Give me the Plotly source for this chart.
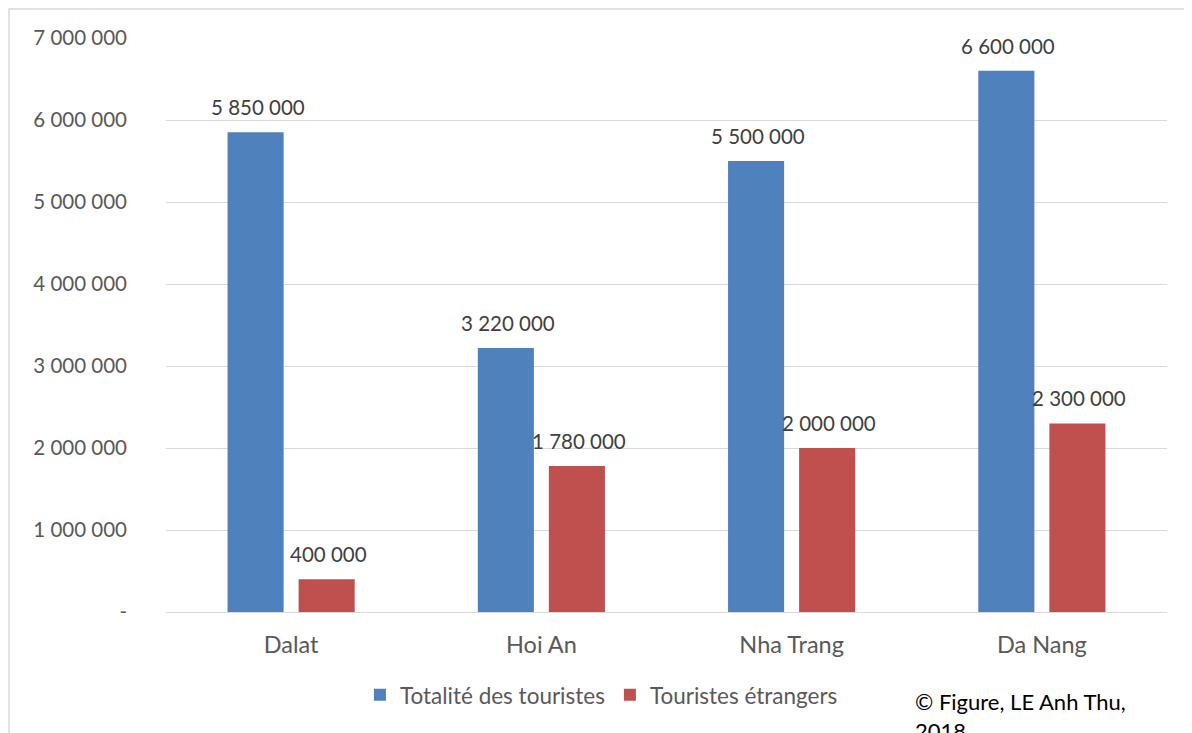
import plotly.graph_objects as go

categories = ["Dalat", "Hoi An", "Nha Trang", "Da Nang"]
total_tourists = [5850000, 3220000, 5500000, 6600000]
foreign_tourists = [400000, 1780000, 2000000, 2300000]
series_names = ["Totalité des touristes", "Touristes étrangers"]
tick_values = [0, 1000000, 2000000, 3000000, 4000000, 5000000, 6000000, 7000000]
tick_labels = ["-", "1 000 000", "2 000 000", "3 000 000", "4 000 000",
               "5 000 000", "6 000 000", "7 000 000"]

BLUE = "#4f81bd"
RED = "#c0504d"
FONT = "Lato"

W, H = 1192, 733
ML, MR, MT, MB = 158, 33, 30, 129
BARGAP = 0.432
plot_w = W - ML - MR
plot_h = H - MT - MB
slot = (1 - BARGAP) * plot_w / len(categories) / 2


def fmt(v):
    return f"{v:,}".replace(",", " ")


fig = go.Figure()
fig.add_trace(go.Bar(
    name=series_names[0], x=categories, y=total_tourists,
    marker=dict(color=BLUE, line=dict(width=0)),
))
fig.add_trace(go.Bar(
    name=series_names[1], x=categories, y=foreign_tourists,
    marker=dict(color=RED, line=dict(width=0)),
))

# data labels above bars
for series, shift in ((total_tourists, -slot / 2), (foreign_tourists, slot / 2)):
    for cat, v in zip(categories, series):
        fig.add_annotation(x=cat, y=v, xref="x", yref="y", text=fmt(v),
                           showarrow=False, xanchor="center", yanchor="bottom",
                           xshift=shift + 2, yshift=11,
                           font=dict(family=FONT, size=20.5, color="#404040"))

fig.update_layout(
    width=W, height=H,
    margin=dict(l=ML, r=MR, t=MT, b=MB),
    paper_bgcolor="white", plot_bgcolor="white",
    barmode="group", bargap=BARGAP, bargroupgap=0.211,
    font=dict(family=FONT, size=20, color="#595959"),
    showlegend=True,
    legend=dict(orientation="h", x=0.435, xanchor="center", y=-0.145, yanchor="middle",
                font=dict(family=FONT, size=22.5, color="#595959"),
                itemwidth=30, traceorder="normal"),
)
fig.update_xaxes(showgrid=False, showline=False, zeroline=False, ticks="",
                 ticklabelstandoff=16,
                 tickfont=dict(family=FONT, size=23.5, color="#595959"))
fig.update_yaxes(range=[0, 7000000], tickvals=tick_values, ticktext=tick_labels,
                 showgrid=True, gridcolor="#d9d9d9", gridwidth=1.3,
                 zeroline=True, zerolinecolor="#d9d9d9", zerolinewidth=1.3,
                 showline=False, ticks="", ticklabelstandoff=38,
                 tickfont=dict(family=FONT, size=20.5, color="#595959"))

# outer chart border (left/top visible, extends beyond the picture)
fig.add_shape(type="rect", xref="paper", yref="paper",
              x0=-(ML - 1) / plot_w, x1=1.1, y0=-0.3, y1=1 + (MT - 1) / plot_h,
              line=dict(color="#d9d9d9", width=1.5), fillcolor="rgba(0,0,0,0)",
              layer="below")

fig.add_annotation(xref="paper", yref="paper", x=(905 - ML) / plot_w, y=-(678 - MT - plot_h) / plot_h,
                   xanchor="left", yanchor="top", align="left", showarrow=False,
                   text="© Figure, LE Anh Thu,<br>2018",
                   font=dict(family=FONT, size=22, color="#000000"))

fig.write_html("out.html")
